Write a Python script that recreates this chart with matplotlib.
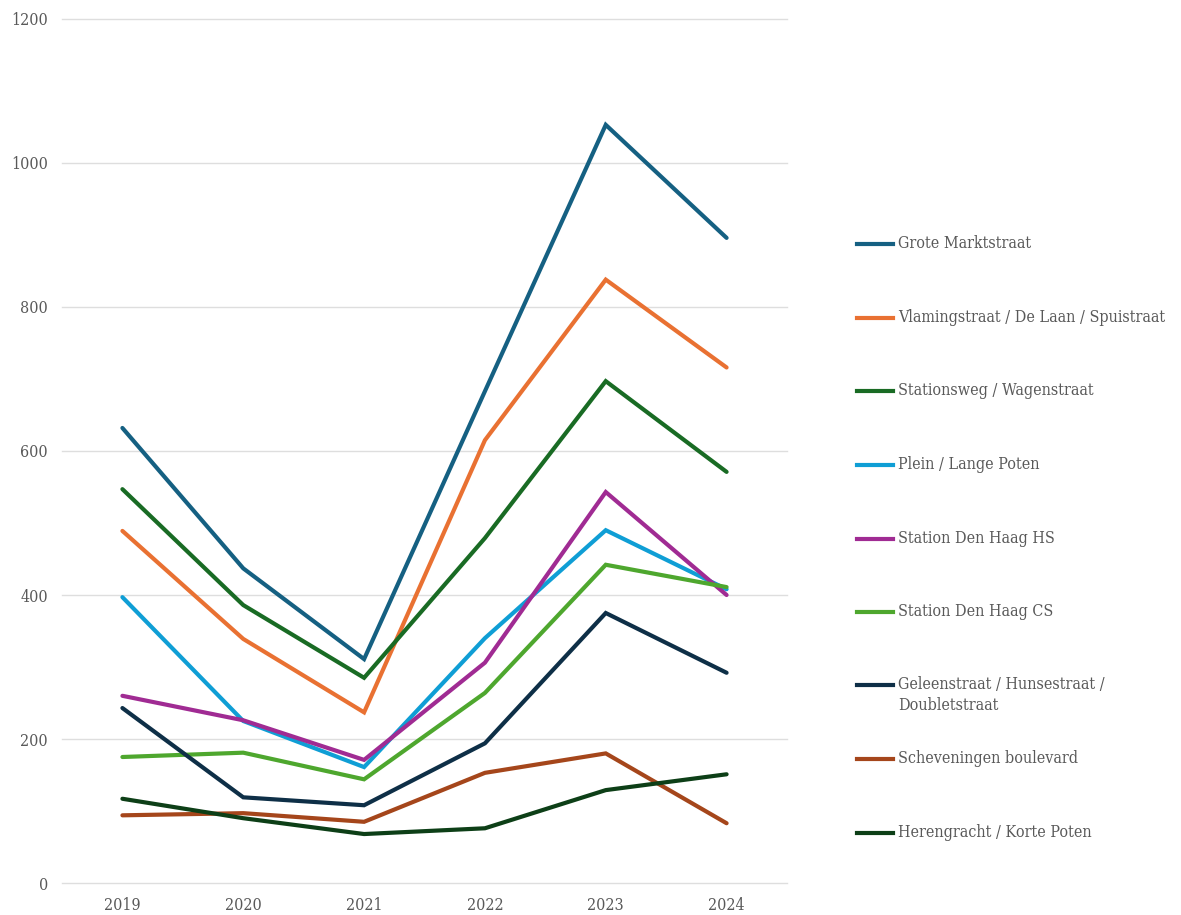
import matplotlib
matplotlib.use('Agg')
import matplotlib.pyplot as plt
from matplotlib.lines import Line2D

# ── data ──────────────────────────────────────────────────────────────────────
years = ['2019', '2020', '2021', '2022', '2023', '2024']

grote_markt   = [632, 437, 311, 683, 1053, 896]
vlaming       = [489, 339, 237, 615, 838, 716]
stationsweg   = [547, 386, 285, 479, 697, 571]
plein         = [397, 225, 161, 340, 490, 408]
station_hs    = [260, 226, 171, 306, 543, 400]
station_cs    = [175, 181, 144, 264, 442, 411]
geleen        = [243, 119, 108, 194, 375, 292]
scheveningen  = [94, 97, 85, 153, 180, 83]
herengracht   = [117, 90, 68, 76, 129, 151]

labels = [
    'Grote Marktstraat',
    'Vlamingstraat / De Laan / Spuistraat',
    'Stationsweg / Wagenstraat',
    'Plein / Lange Poten',
    'Station Den Haag HS',
    'Station Den Haag CS',
    'Geleenstraat / Hunsestraat /\nDoubletstraat',
    'Scheveningen boulevard',
    'Herengracht / Korte Poten',
]
series = [grote_markt, vlaming, stationsweg, plein, station_hs,
          station_cs, geleen, scheveningen, herengracht]
colors = ['#156082', '#E97132', '#196B24', '#0F9ED5', '#A02B93',
          '#4EA72E', '#0E2F47', '#A5461B', '#0D3F17']

TEXT = '#595959'
GRID = '#dedede'
FONT = 'DejaVu Serif'
FS = 11.5
STRETCH = 'condensed'

W, H = 1181, 915
fig = plt.figure(figsize=(W / 100, H / 100), dpi=100)
# axes box in pixels: left 62, right 787, top 19, bottom 883
ax = fig.add_axes([62 / W, 1 - 883 / H, (787 - 62) / W, (883 - 19) / H])

x = list(range(len(years)))
for vals, c in zip(series, colors):
    ax.plot(x, vals, color=c, lw=3.0, solid_capstyle='round',
            solid_joinstyle='miter', zorder=3)

ax.set_xlim(-0.5, len(years) - 0.5)
ax.set_ylim(0, 1200)
ax.set_yticks(range(0, 1201, 200))
ax.set_xticks(x)
ax.set_xticklabels(years)
ax.grid(axis='y', color=GRID, lw=1.0)
for gl in ax.get_ygridlines():
    gl.set_clip_on(False)
ax.set_axisbelow(True)
for s in ax.spines.values():
    s.set_visible(False)
ax.tick_params(length=0, labelcolor=TEXT, labelsize=FS, pad=10)
ax.tick_params(axis='x', pad=10)
for t in ax.get_xticklabels() + ax.get_yticklabels():
    t.set_fontfamily(FONT)
    t.set_fontstretch(STRETCH)

# ── legend (drawn by hand so the two-line label stays top-aligned) ───────────
leg_y = [244, 318, 391, 465, 539, 612, 685, 759, 833]
for lbl, c, py in zip(labels, colors, leg_y):
    fy = 1 - py / H
    fig.add_artist(Line2D([857 / W, 893 / W], [fy, fy], color=c, lw=3.0,
                          transform=fig.transFigure))
    fig.text(898 / W, fy + 9 / H, lbl, color=TEXT, fontsize=FS,
             fontfamily=FONT, fontstretch=STRETCH, ha='left', va='top',
             linespacing=1.3)

fig.savefig('out.png', dpi=100, facecolor='white')
